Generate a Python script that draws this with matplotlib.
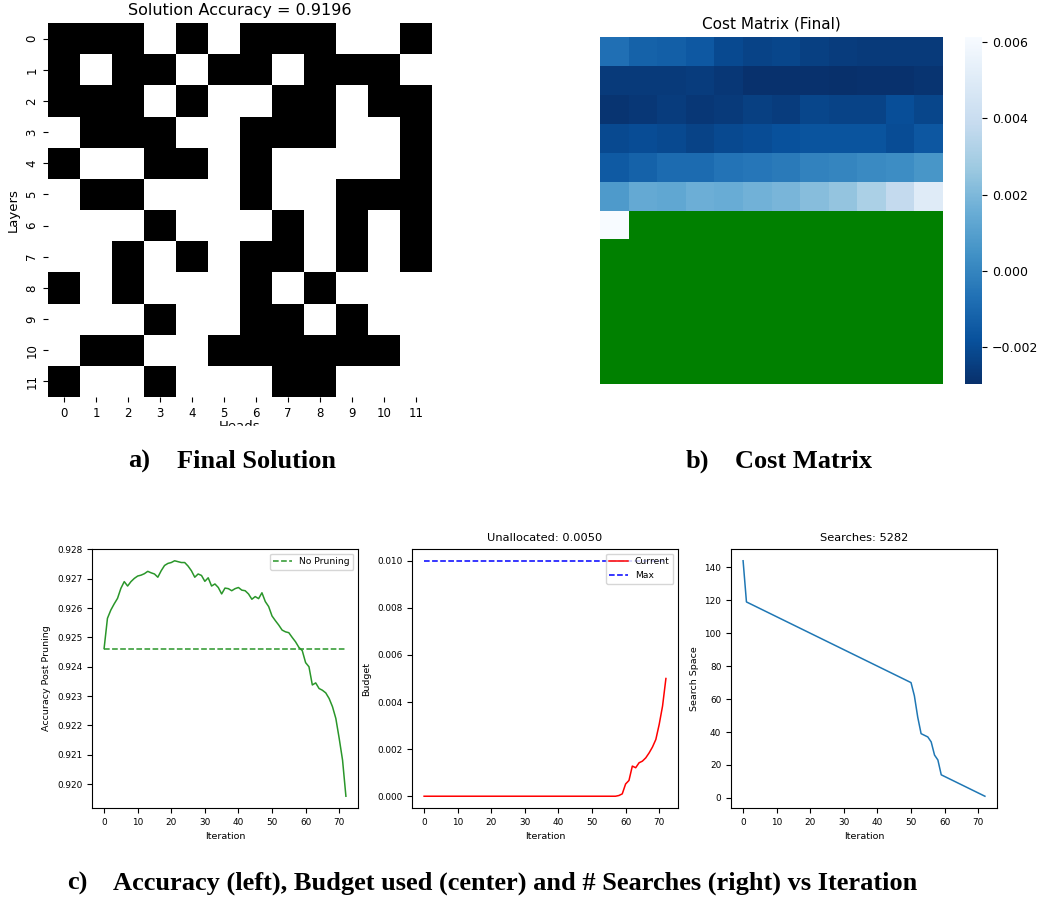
import matplotlib
matplotlib.use("Agg")
import matplotlib.pyplot as plt
from matplotlib.patches import Rectangle
import numpy as np
import seaborn as sns

# ---- data ----
heads = list(range(12))
layers = list(range(12))

# 1 = head kept (black), 0 = pruned (white)
solution = [
    [1, 1, 1, 0, 1, 0, 1, 1, 1, 0, 0, 1],
    [1, 0, 1, 1, 0, 1, 1, 0, 1, 1, 1, 0],
    [1, 1, 1, 0, 1, 0, 0, 1, 1, 0, 1, 1],
    [0, 1, 1, 1, 0, 0, 1, 1, 1, 0, 0, 1],
    [1, 0, 0, 1, 1, 0, 1, 0, 0, 0, 0, 1],
    [0, 1, 1, 0, 0, 0, 1, 0, 0, 1, 1, 1],
    [0, 0, 0, 1, 0, 0, 0, 1, 0, 1, 0, 1],
    [0, 0, 1, 0, 1, 0, 1, 1, 0, 1, 0, 1],
    [1, 0, 1, 0, 0, 0, 1, 0, 1, 0, 0, 0],
    [0, 0, 0, 1, 0, 0, 1, 1, 0, 1, 0, 0],
    [0, 1, 1, 0, 0, 1, 1, 1, 1, 1, 1, 0],
    [1, 0, 0, 1, 0, 0, 0, 1, 1, 0, 0, 0],
]

nan = np.nan
cost = [
    [-0.00075, -0.0012, -0.0013, -0.00155, -0.0021, -0.0023, -0.0022, -0.0024, -0.0025, -0.0026, -0.0026, -0.0026],
    [-0.0026, -0.0026, -0.0026, -0.0025, -0.0027, -0.0029, -0.0029, -0.0029, -0.00296, -0.0029, -0.0029, -0.0028],
    [-0.0028, -0.0027, -0.0025, -0.0027, -0.0026, -0.0024, -0.0025, -0.0022, -0.0023, -0.0023, -0.0019, -0.0022],
    [-0.0021, -0.0020, -0.0021, -0.0023, -0.0021, -0.0020, -0.0018, -0.0017, -0.0017, -0.0017, -0.0020, -0.0016],
    [-0.0015, -0.0012, -0.0009, -0.0009, -0.0006, -0.0005, -0.0004, -0.0001, 0.0000, 0.0002, 0.0003, 0.0006],
    [0.0008, 0.0014, 0.0013, 0.0016, 0.0015, 0.0017, 0.0019, 0.0022, 0.0025, 0.0031, 0.0038, 0.0050],
    [0.00613, nan, nan, nan, nan, nan, nan, nan, nan, nan, nan, nan],
    [nan] * 12,
    [nan] * 12,
    [nan] * 12,
    [nan] * 12,
    [nan] * 12,
]

no_pruning = 0.92462
accuracy = [0.92462, 0.92565, 0.92593, 0.92614, 0.92633, 0.92667, 0.92690, 0.92675, 0.92690, 0.92701,
            0.92709, 0.92712, 0.92717, 0.92725, 0.92720, 0.92716, 0.92705, 0.92727, 0.92745, 0.92752,
            0.92755, 0.92761, 0.92758, 0.92755, 0.92755, 0.92743, 0.92727, 0.92705, 0.92716, 0.92711,
            0.92691, 0.92703, 0.92675, 0.92682, 0.92670, 0.92648, 0.92668, 0.92666, 0.92659, 0.92666,
            0.92670, 0.92661, 0.92659, 0.92648, 0.92630, 0.92639, 0.92632, 0.92652, 0.92622, 0.92605,
            0.92573, 0.92557, 0.92542, 0.92525, 0.92519, 0.92516, 0.92500, 0.92485, 0.92466, 0.92455,
            0.92414, 0.92400, 0.92338, 0.92345, 0.92326, 0.92320, 0.92311, 0.92292, 0.92264, 0.92224,
            0.92156, 0.92082, 0.91959]

max_budget = 0.010
budget = [0.0] * 58 + [0.00003, 0.0001, 0.00052, 0.00067, 0.00128, 0.00121, 0.00142, 0.00149,
                       0.00163, 0.00184, 0.00209, 0.00241, 0.00305, 0.00383, 0.00500]

search_space = [144,
                119, 118, 117, 116, 115, 114, 113, 112, 111, 110,
                109, 108, 107, 106, 105, 104, 103, 102, 101, 100,
                99, 98, 97, 96, 95, 94, 93, 92, 91, 90,
                89, 88, 87, 86, 85, 84, 83, 82, 81, 80,
                79, 78, 77, 76, 75, 74, 73, 72, 71, 70,
                62, 49, 39, 38, 37, 34, 26, 23,
                14, 13, 12, 11, 10, 9, 8, 7, 6, 5, 4, 3, 2, 1]

# ---- layout (pixel boxes on a 1041x900 canvas) ----
W, H = 1041, 900
fig = plt.figure(figsize=(W / 100, H / 100), dpi=100)


def box(x0, y0, x1, y1):
    return [x0 / W, 1 - y1 / H, (x1 - x0) / W, (y1 - y0) / H]


# a) final solution
ax1 = fig.add_axes(box(48, 23, 432, 397))
sns.heatmap(np.array(solution), cmap="binary", vmin=0, vmax=1, cbar=False, ax=ax1)
ax1.set_title("Solution Accuracy = 0.9196", fontsize=11.5)
ax1.set_xticklabels(heads, fontsize=8.5)
ax1.set_yticklabels(layers, fontsize=8.5, rotation=90, va="center")
ax1.set_xlabel("Heads", fontsize=9.5, labelpad=0)
ax1.set_ylabel("Layers", fontsize=9.5)

# b) cost matrix
ax2 = fig.add_axes(box(600, 37, 943, 384))
cax = fig.add_axes(box(965, 37, 982, 384))
sns.heatmap(np.array(cost), cmap="Blues_r", ax=ax2, cbar_ax=cax,
            xticklabels=False, yticklabels=False)
ax2.set_facecolor("green")
ax2.set_title("Cost Matrix (Final)", fontsize=11)
cax.tick_params(labelsize=9)

# c) curves
small = 6.4
green = "#2a962a"
axA = fig.add_axes(box(92, 549, 358, 808))
it = np.arange(len(accuracy))
axA.plot(it, accuracy, color=green, lw=1.1)
axA.plot(it, [no_pruning] * len(it), "--", color=green, lw=1.1, label="No Pruning")
axA.set_xlabel("Iteration", fontsize=6.8)
axA.set_ylabel("Accuracy Post Pruning", fontsize=6.8)
axA.tick_params(labelsize=small)
axA.legend(loc="upper right", fontsize=6.6)

axB = fig.add_axes(box(412, 549, 678, 808))
it_b = np.arange(len(budget))
axB.plot(it_b, budget, color="r", lw=1.1, label="Current")
axB.plot(it_b, [max_budget] * len(it_b), "b--", lw=1.1, label="Max")
axB.set_title("Unallocated: %.4f" % (max_budget - budget[-1]), fontsize=8.2)
axB.set_xlabel("Iteration", fontsize=6.8)
axB.set_ylabel("Budget", fontsize=6.8)
axB.tick_params(labelsize=small)
axB.legend(loc="upper right", fontsize=6.6)

axC = fig.add_axes(box(731, 549, 997, 808))
it_c = np.arange(len(search_space))
axC.plot(it_c, search_space, color="C0", lw=1.1)
axC.set_title("Searches: 5282", fontsize=8.2)
axC.set_xlabel("Iteration", fontsize=6.8)
axC.set_ylabel("Search Space", fontsize=6.8)
axC.tick_params(labelsize=small)

# the "Heads" label is cut off in the source image
fig.add_artist(Rectangle((40 / W, 1 - 440 / H), 400 / W, 14 / H,
                         transform=fig.transFigure, color="white", zorder=10))

# captions
cap = dict(fontfamily="Liberation Serif", fontweight="bold", fontsize=19, va="center")
fig.text(128 / W, 1 - 461 / H, "a)", **cap)
fig.text(177 / W, 1 - 461 / H, "Final Solution", **cap)
fig.text(686 / W, 1 - 461 / H, "b)", **cap)
fig.text(735 / W, 1 - 461 / H, "Cost Matrix", **cap)
fig.text(67 / W, 1 - 883 / H, "c)", **cap)
fig.text(113 / W, 1 - 883 / H,
         "Accuracy (left), Budget used (center) and # Searches (right) vs Iteration", **cap)

fig.savefig("out.png", dpi=100)
